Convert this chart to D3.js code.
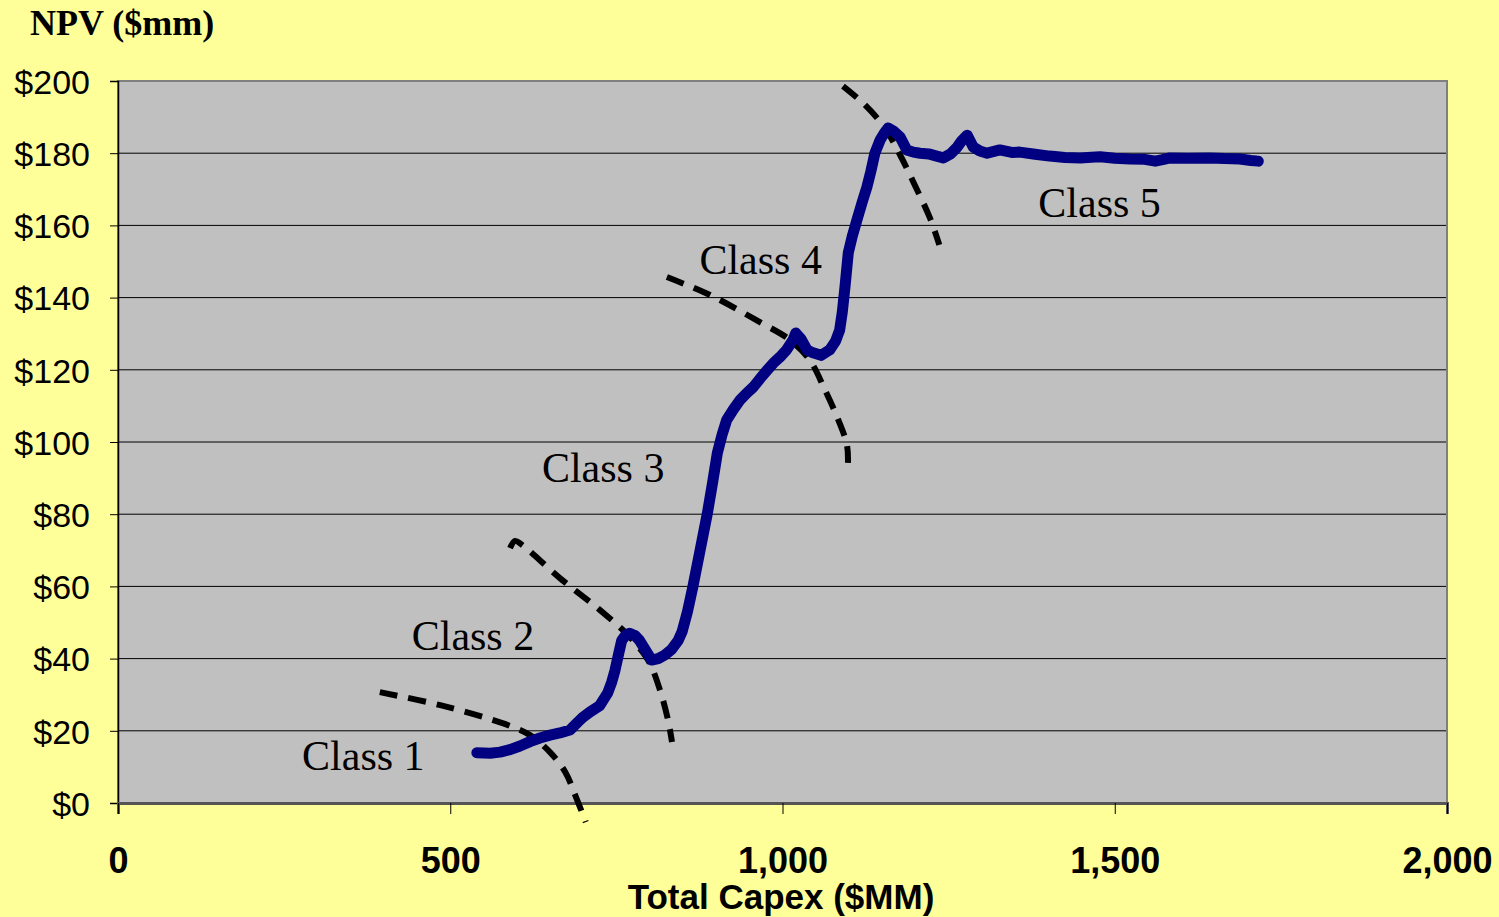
<!DOCTYPE html>
<html><head><meta charset="utf-8">
<script src="https://cdn.jsdelivr.net/npm/d3@7"></script>
<style>html,body{margin:0;padding:0;background:#FFFF99;}svg{display:block;}</style>
</head><body>
<script>
// ---- data ----
const xTicks = [0, 500, 1000, 1500, 2000];
const yTicks = [0, 20, 40, 60, 80, 100, 120, 140, 160, 180, 200];
const npvCapex = [540,560,575,590,605,620,635,650,665,680,692,700,710,725,737,743,748,753,758,764,770,778,785,795,803,813,823,833,843,849,857,865,876,887,895,902,909,916,926,936,946,956,966,977,986,996,1006,1016,1020,1028,1037,1046,1058,1071,1080,1086,1090,1094,1099,1105,1112,1120,1127,1133,1139,1147,1153,1159,1168,1177,1187,1197,1207,1220,1232,1242,1253,1263,1270,1278,1287,1297,1308,1327,1345,1357,1380,1402,1425,1448,1465,1478,1500,1523,1545,1561,1572,1583,1610,1643,1665,1688,1705,1716];
const npvValue = [13.9,13.8,14.1,14.8,15.8,17.0,18.0,18.8,19.4,20.2,22.4,23.8,25.2,27.0,30.5,33.5,36.8,41.0,45.0,46.5,47.0,46.4,45.0,42.0,39.6,40.0,41.0,42.5,45.0,47.5,53.0,59.8,70.0,80.3,89.0,97.0,102.0,106.1,109.0,111.6,113.5,115.2,117.5,119.9,121.8,123.5,125.5,128.3,130.2,128.5,125.5,124.7,124.0,125.5,128.0,131.0,136.0,142.9,152.4,157.0,161.5,166.5,170.6,175.0,180.0,183.7,185.5,187.0,186.0,184.5,180.9,180.3,180.0,179.8,179.2,178.7,179.8,181.7,183.5,185.0,181.7,180.6,180.0,180.9,180.2,180.3,179.7,179.2,178.8,178.7,178.9,179.0,178.6,178.4,178.3,177.8,178.2,178.7,178.6,178.7,178.5,178.4,178.0,177.8];
const boundary1X = [394,485,582,620,650,673,688,704];
const boundary1Y = [30.7,27.1,21.9,18.8,14.1,8.6,2.2,-5.3];
const boundary2X = [590,597.5,608,665,725,767.5,797.6,815.6,827.7,833.7];
const boundary2Y = [70.6,72.6,71.5,62.3,53.5,46.5,39.6,31.3,23,16.9];
const boundary3X = [826,891,966,1011,1041,1064,1084,1097,1098.5];
const boundary3Y = [145.7,140.7,133.2,128.3,122.7,114.4,106.1,99.2,94.2];
const boundary4X = [1091,1124,1154,1177,1199,1222,1236];
const boundary4Y = [198.6,193.4,187,179.5,171.2,162,154.6];
const classLabels = ["Class 1","Class 2","Class 3","Class 4","Class 5"];
const classLabelX = [277, 442, 638, 875, 1385];
const classLabelY = [9.1, 42.4, 88.9, 146.4, 162.2];

// ---- layout ----
const W = 1499, H = 917;
const L = 118, R = 1447, T = 81, B = 803;
const svg = d3.select("body").append("svg").attr("width", W).attr("height", H);
svg.append("rect").attr("width", W).attr("height", H).attr("fill", "#FFFF99");

const x = d3.scaleLinear().domain([0, 2000]).range([L, R]);
const y = d3.scaleLinear().domain([0, 200]).range([B, T]);

// plot area
svg.append("rect").attr("x", L).attr("y", T).attr("width", R - L).attr("height", B - T)
  .attr("fill", "#C0C0C0");

// gridlines
svg.append("g").selectAll("line").data(yTicks.filter(d => d > 0 && d < 200)).join("line")
  .attr("x1", L).attr("x2", R).attr("y1", d => y(d)).attr("y2", d => y(d))
  .attr("stroke", "#000").attr("stroke-width", 1);

// border
svg.append("rect").attr("x", L).attr("y", T).attr("width", R - L).attr("height", B - T)
  .attr("fill", "none").attr("stroke", "#808080").attr("stroke-width", 2);

// axes
const yAxis = d3.axisLeft(y).tickValues(yTicks).tickSize(8).tickFormat(d => "$" + d);
const gy = svg.append("g").attr("transform", `translate(${L},0)`).call(yAxis);
gy.select(".domain").attr("stroke", "#000").attr("stroke-width", 1.5);
gy.selectAll(".tick line").attr("stroke", "#000");
gy.selectAll("text").attr("font-family", "'Liberation Sans', Arial, sans-serif")
  .attr("font-size", 34).attr("fill", "#000").attr("x", -28).attr("dy", "0.36em");

const xAxis = d3.axisBottom(x).tickValues(xTicks).tickSize(11).tickFormat(d3.format(","));
const gx = svg.append("g").attr("transform", `translate(0,${B})`).call(xAxis);
gx.select(".domain").attr("stroke", "#555").attr("stroke-width", 3);
gx.selectAll(".tick line").attr("stroke", "#000");
gx.selectAll("text").attr("font-family", "'Liberation Sans', Arial, sans-serif")
  .attr("font-size", 36).attr("font-weight", "bold").attr("fill", "#000")
  .attr("y", 44).attr("dy", "0.71em");

// titles
svg.append("text").attr("x", 30).attr("y", 35).text("NPV ($mm)")
  .attr("font-family", "'Liberation Serif', 'Times New Roman', serif")
  .attr("font-size", 36).attr("font-weight", "bold").attr("fill", "#000");
svg.append("text").attr("x", 781).attr("y", 909).attr("text-anchor", "middle")
  .text("Total Capex ($MM)")
  .attr("font-family", "'Liberation Sans', Arial, sans-serif")
  .attr("font-size", 35).attr("font-weight", "bold").attr("fill", "#000");

// boundaries (dashed)
const bLine = d3.line().x(d => x(d[0])).y(d => y(d[1])).curve(d3.curveCatmullRom.alpha(0.5));
const boundaries = [
  [boundary1X, boundary1Y], [boundary2X, boundary2Y],
  [boundary3X, boundary3Y], [boundary4X, boundary4Y]
];
svg.append("g").selectAll("path").data(boundaries).join("path")
  .attr("d", b => bLine(b[0].map((v, i) => [v, b[1][i]])))
  .attr("fill", "none").attr("stroke", "#000").attr("stroke-width", 6)
  .attr("stroke-dasharray", "18,11");

// NPV curve
const line = d3.line().x(d => x(d[0])).y(d => y(d[1]));
svg.append("path").datum(npvCapex.map((v, i) => [v, npvValue[i]]))
  .attr("d", line).attr("fill", "none").attr("stroke", "#000080")
  .attr("stroke-width", 11).attr("stroke-linejoin", "round").attr("stroke-linecap", "round");

// class labels
svg.append("g").selectAll("text").data(classLabels).join("text")
  .attr("x", (d, i) => x(classLabelX[i])).attr("y", (d, i) => y(classLabelY[i]))
  .text(d => d)
  .attr("font-family", "'Liberation Serif', 'Times New Roman', serif")
  .attr("font-size", 42).attr("fill", "#000");
</script>
</body></html>
